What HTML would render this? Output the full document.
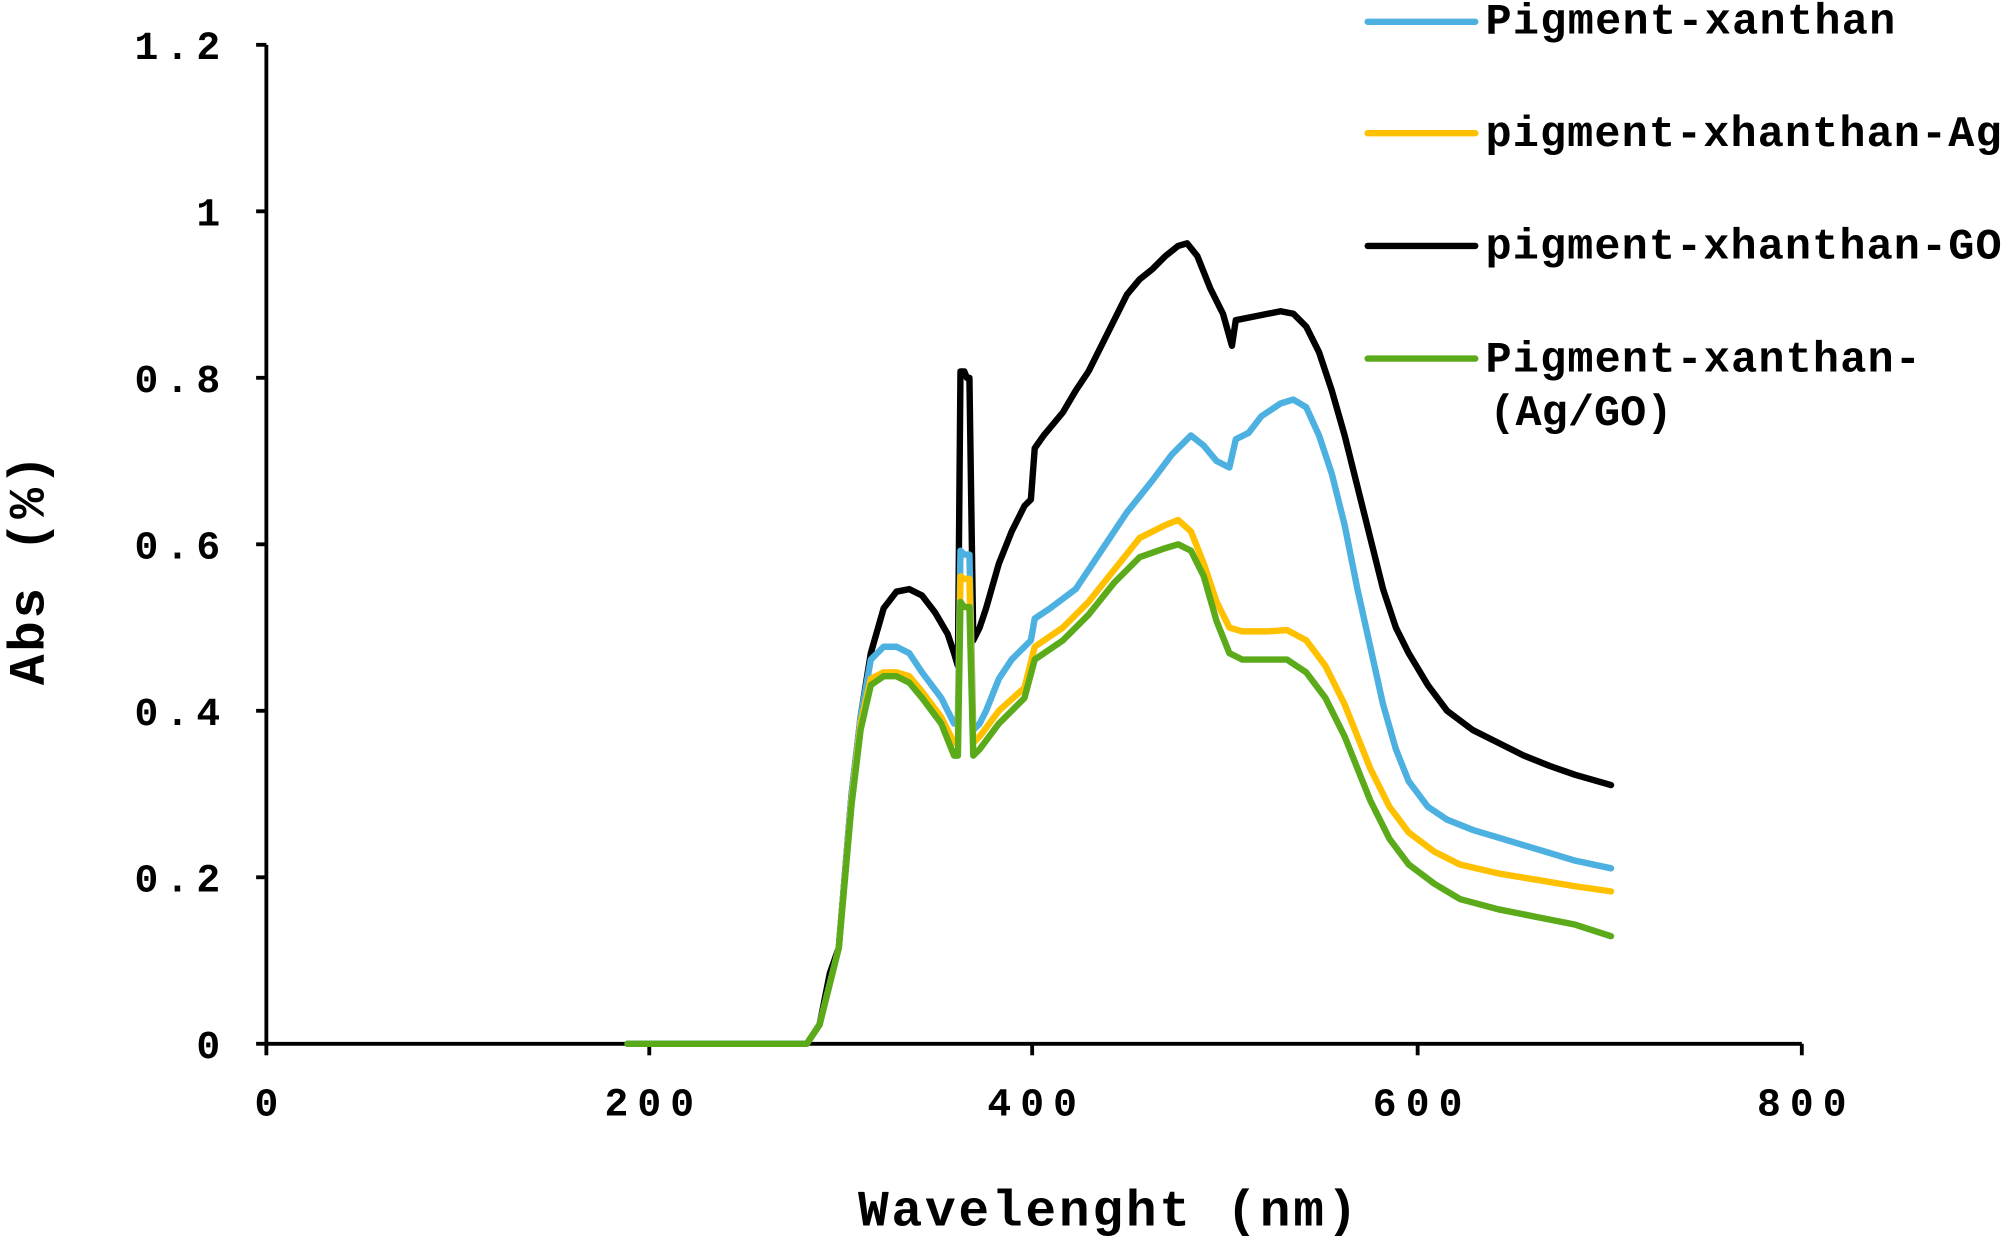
<!DOCTYPE html>
<html><head><style>html,body{margin:0;padding:0;background:#fff}</style></head>
<body>
<svg width="2008" height="1241" viewBox="0 0 1568 969" preserveAspectRatio="none" xmlns="http://www.w3.org/2000/svg" font-family="'Liberation Mono', monospace" font-weight="bold">
<rect width="1568" height="969" fill="#fff"/>
<g stroke="#000" stroke-width="3" fill="none">
<line x1="208" y1="35" x2="208" y2="816"/>
<line x1="207" y1="815" x2="1407" y2="815"/>
<line x1="200" y1="35" x2="208" y2="35"/><line x1="200" y1="165" x2="208" y2="165"/><line x1="200" y1="295" x2="208" y2="295"/><line x1="200" y1="425" x2="208" y2="425"/><line x1="200" y1="555" x2="208" y2="555"/><line x1="200" y1="685" x2="208" y2="685"/><line x1="200" y1="815" x2="208" y2="815"/>
<line x1="208" y1="815" x2="208" y2="824"/><line x1="507" y1="815" x2="507" y2="824"/><line x1="806" y1="815" x2="806" y2="824"/><line x1="1107" y1="815" x2="1107" y2="824"/><line x1="1407" y1="815" x2="1407" y2="824"/>
</g>
<g font-size="31" text-anchor="end" fill="#000">
<text x="172" y="46" textLength="67">1.2</text>
<text x="172" y="176">1</text>
<text x="172" y="306" textLength="67">0.8</text>
<text x="172" y="436" textLength="67">0.6</text>
<text x="172" y="566" textLength="67">0.4</text>
<text x="172" y="696" textLength="67">0.2</text>
<text x="172" y="826">0</text>
</g>
<g font-size="31" text-anchor="middle" fill="#000">
<text x="208" y="871">0</text>
<text x="507" y="871" textLength="70">200</text>
<text x="806" y="871" textLength="70">400</text>
<text x="1107" y="871" textLength="70">600</text>
<text x="1407" y="871" textLength="70">800</text>
</g>
<text x="865" y="957" font-size="40" text-anchor="middle" textLength="390">Wavelenght (nm)</text>
<text transform="translate(34,445) rotate(-90)" font-size="40" text-anchor="middle" textLength="180">Abs (%)</text>
<g fill="none" stroke-width="5" stroke-linejoin="round" stroke-linecap="round">
<polyline stroke="#000" points="490,815 630,815 640,800 648,760 655,740 665,620 672,560 680,510 690,475 700,462 710,460 720,465 730,478 740,495 745,510 748,520 750,290 753,290 755,295 757,295 760,500 765,490 770,475 780,440 790,415 800,395 805,390 808,350 815,340 830,322 840,305 850,290 860,270 870,250 880,230 890,218 900,210 910,200 920,192 927,190 935,200 945,225 955,245 962,270 965,250 975,248 990,245 1000,243 1010,245 1020,255 1030,275 1040,305 1050,340 1060,380 1070,420 1080,460 1090,490 1100,510 1115,535 1130,555 1150,570 1170,580 1190,590 1210,598 1230,605 1258,613"/>
<polyline stroke="#4cb0e0" points="490,815 630,815 640,800 655,740 665,620 672,560 680,515 690,505 700,505 710,510 720,525 735,545 745,565 748,560 750,430 753,433 757,433 760,570 765,565 770,555 780,530 790,515 805,500 808,483 820,475 840,460 860,430 880,400 900,375 915,355 930,340 940,348 950,360 960,365 965,343 975,338 985,325 1000,315 1010,312 1020,318 1030,340 1040,370 1050,410 1060,460 1070,505 1080,550 1090,585 1100,610 1115,630 1130,640 1150,648 1170,654 1190,660 1210,666 1230,672 1258,678"/>
<polyline stroke="#ffc000" points="630,815 640,800 655,740 665,625 672,565 680,530 690,525 700,525 710,528 720,540 735,560 745,580 748,580 750,450 753,452 757,452 760,580 765,575 780,555 800,537 808,505 830,490 850,470 870,445 890,420 910,410 920,406 930,415 940,440 950,470 960,490 970,493 990,493 1005,492 1020,500 1035,520 1050,550 1060,575 1070,600 1085,630 1100,650 1120,665 1140,675 1170,682 1200,687 1230,692 1258,696"/>
<polyline stroke="#5aaa1a" points="490,815 630,815 640,800 655,740 665,628 672,570 680,535 690,528 700,528 710,533 720,545 735,565 745,590 748,590 750,470 753,474 757,474 760,590 765,585 780,565 800,545 808,515 830,500 850,480 870,455 890,435 910,428 920,425 930,430 940,450 950,485 960,510 970,515 990,515 1005,515 1020,525 1035,545 1050,575 1060,600 1070,625 1085,655 1100,675 1120,690 1140,702 1170,710 1200,716 1230,722 1258,731"/>
</g>
<g stroke-width="5" stroke-linecap="round">
<line x1="1068" y1="17" x2="1152" y2="17" stroke="#4cb0e0"/>
<line x1="1068" y1="104" x2="1152" y2="104" stroke="#ffc000"/>
<line x1="1068" y1="192" x2="1152" y2="192" stroke="#000"/>
<line x1="1068" y1="280" x2="1152" y2="280" stroke="#5aaa1a"/>
</g>
<g font-size="34" fill="#000">
<text x="1160" y="26" textLength="320">Pigment-xanthan</text>
<text x="1160" y="114" textLength="403">pigment-xhanthan-Ag</text>
<text x="1160" y="202" textLength="403">pigment-xhanthan-GO</text>
<text x="1160" y="290" textLength="340">Pigment-xanthan-</text>
<text x="1163" y="332" textLength="143">(Ag/GO)</text>
</g>
</svg>
</body></html>
